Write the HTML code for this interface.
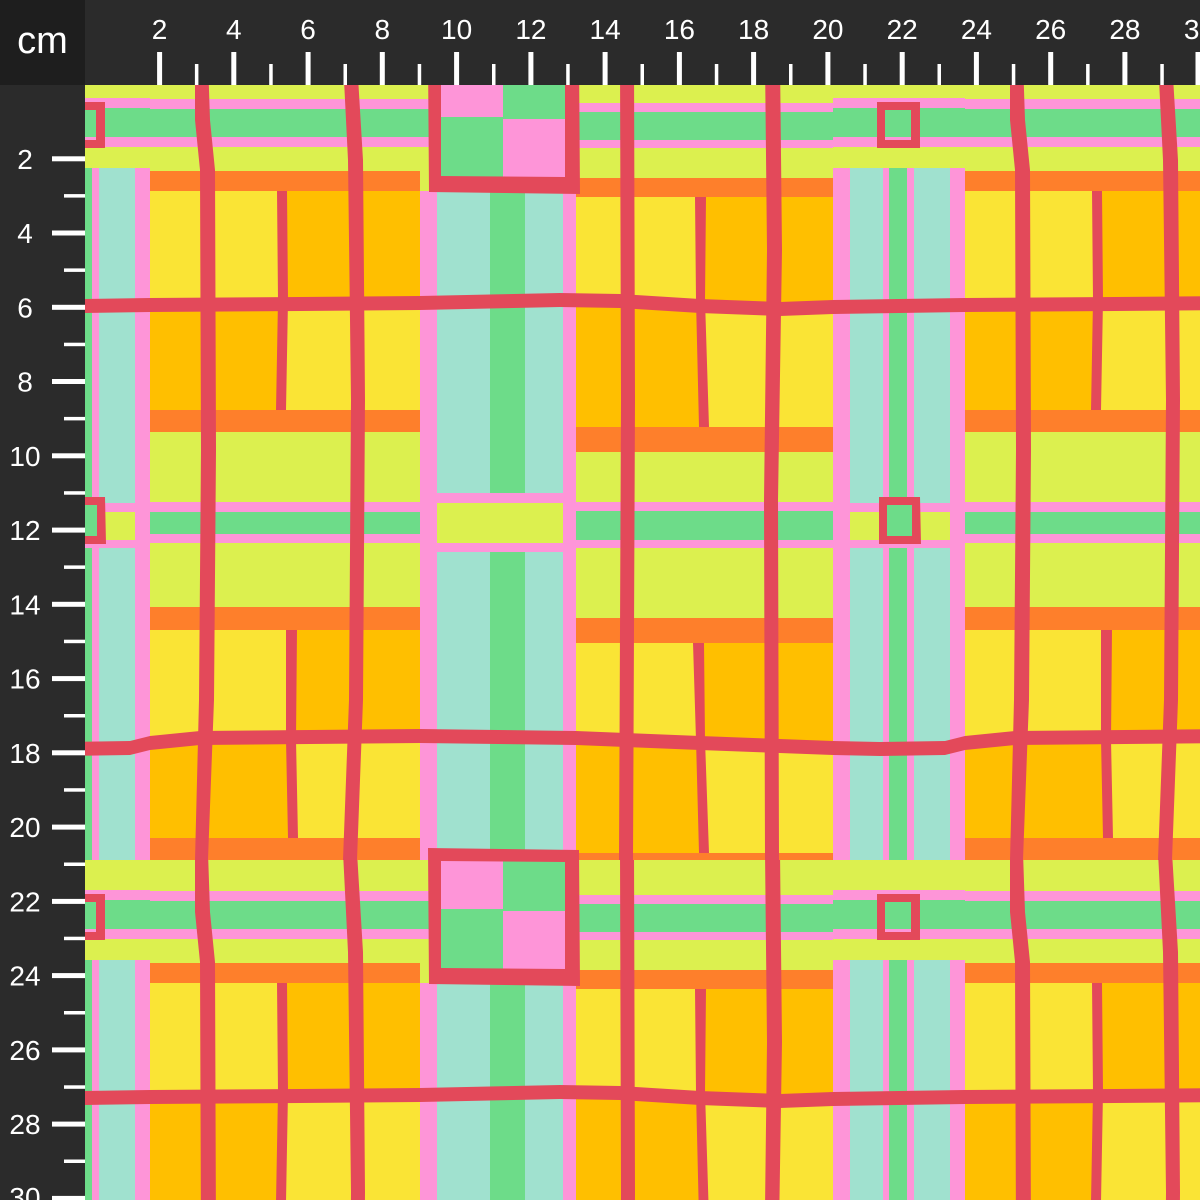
<!DOCTYPE html>
<html><head><meta charset="utf-8"><style>
html,body{margin:0;padding:0;background:#2b2b2b;width:1200px;height:1200px;overflow:hidden;position:relative;}
svg{display:block;position:absolute;left:0;top:0;}
text{font-family:"Liberation Sans",sans-serif;fill:#fff;}
#b30{position:absolute;left:0;top:1180px;width:85px;height:20px;overflow:hidden;}
#b30 span{position:absolute;left:0;width:50px;text-align:center;top:2px;font:28px/32px "Liberation Sans",sans-serif;color:#fff;}
</style></head><body>
<svg width="1200" height="1200" viewBox="0 0 1200 1200" xmlns="http://www.w3.org/2000/svg">
<defs>
<pattern id="p" patternUnits="userSpaceOnUse" x="150" y="68" width="815" height="792">
<g transform="translate(-150,-68)">
  <rect x="150" y="68" width="815" height="792" fill="#dcf04f"/>
  <!-- upper band -->
  <rect x="150" y="99" width="426" height="10" fill="#fe95d8"/>
  <rect x="150" y="109" width="426" height="28" fill="#6ddc89"/>
  <rect x="150" y="137" width="426" height="10" fill="#fe95d8"/>
  <rect x="576" y="103" width="257" height="9" fill="#fe95d8"/>
  <rect x="576" y="112" width="257" height="28" fill="#6ddc89"/>
  <rect x="576" y="140" width="257" height="8" fill="#fe95d8"/>
  <rect x="833" y="98" width="132" height="10" fill="#fe95d8"/>
  <rect x="833" y="108" width="132" height="29" fill="#6ddc89"/>
  <rect x="833" y="137" width="132" height="10" fill="#fe95d8"/>
  <!-- orange bands L -->
  <rect x="150" y="171" width="270" height="20" fill="#fe7f2b"/>
  <rect x="150" y="410" width="270" height="22" fill="#fe7f2b"/>
  <rect x="150" y="607" width="270" height="23" fill="#fe7f2b"/>
  <rect x="150" y="838" width="270" height="22" fill="#fe7f2b"/>
  <!-- orange bands M -->
  <rect x="576" y="178" width="257" height="19" fill="#fe7f2b"/>
  <rect x="576" y="427" width="257" height="25" fill="#fe7f2b"/>
  <rect x="576" y="618" width="257" height="25" fill="#fe7f2b"/>
  <rect x="576" y="853" width="257" height="7" fill="#fe7f2b"/>
  <!-- blocks L -->
  <rect x="150" y="191" width="132" height="114" fill="#fae435"/>
  <rect x="282" y="191" width="138" height="114" fill="#ffbf00"/>
  <rect x="150" y="305" width="132" height="105" fill="#ffbf00"/>
  <rect x="282" y="305" width="138" height="105" fill="#fae435"/>
  <rect x="150" y="630" width="141" height="110" fill="#fae435"/>
  <rect x="291" y="630" width="129" height="110" fill="#ffbf00"/>
  <rect x="150" y="740" width="141" height="98" fill="#ffbf00"/>
  <rect x="291" y="740" width="129" height="98" fill="#fae435"/>
  <!-- blocks M -->
  <rect x="576" y="197" width="124" height="106" fill="#fae435"/>
  <rect x="700" y="197" width="133" height="106" fill="#ffbf00"/>
  <rect x="576" y="303" width="124" height="124" fill="#ffbf00"/>
  <rect x="700" y="303" width="133" height="124" fill="#fae435"/>
  <rect x="576" y="643" width="124" height="99" fill="#fae435"/>
  <rect x="700" y="643" width="133" height="99" fill="#ffbf00"/>
  <rect x="576" y="742" width="124" height="111" fill="#ffbf00"/>
  <rect x="700" y="742" width="133" height="111" fill="#fae435"/>
  <!-- thin band -->
  <rect x="150" y="502" width="270" height="10" fill="#fe95d8"/>
  <rect x="150" y="512" width="270" height="22" fill="#6ddc89"/>
  <rect x="150" y="534" width="270" height="9" fill="#fe95d8"/>
  <rect x="576" y="502" width="257" height="9" fill="#fe95d8"/>
  <rect x="576" y="511" width="257" height="29" fill="#6ddc89"/>
  <rect x="576" y="540" width="257" height="8" fill="#fe95d8"/>
  <!-- wide column -->
  <rect x="420" y="191" width="17" height="669" fill="#fe95d8"/>
  <rect x="437" y="191" width="53" height="669" fill="#a0e1cf"/>
  <rect x="490" y="191" width="35" height="669" fill="#6ddc89"/>
  <rect x="525" y="191" width="38" height="669" fill="#a0e1cf"/>
  <rect x="563" y="191" width="13" height="669" fill="#fe95d8"/>
  <rect x="437" y="493" width="126" height="10" fill="#fe95d8"/>
  <rect x="437" y="503" width="126" height="40" fill="#dcf04f"/>
  <rect x="437" y="543" width="126" height="9" fill="#fe95d8"/>
  <!-- big box interior -->
  <rect x="438" y="60" width="65" height="57" fill="#fe95d8"/>
  <rect x="503" y="60" width="65" height="59" fill="#6ddc89"/>
  <rect x="438" y="117" width="65" height="62" fill="#6ddc89"/>
  <rect x="503" y="119" width="65" height="60" fill="#fe95d8"/>
  <!-- narrow column -->
  <rect x="833" y="168" width="17" height="692" fill="#fe95d8"/>
  <rect x="850" y="168" width="33" height="692" fill="#a0e1cf"/>
  <rect x="883" y="168" width="6" height="692" fill="#fe95d8"/>
  <rect x="889" y="168" width="18" height="692" fill="#6ddc89"/>
  <rect x="907" y="168" width="7" height="692" fill="#fe95d8"/>
  <rect x="914" y="168" width="36" height="692" fill="#a0e1cf"/>
  <rect x="950" y="168" width="15" height="692" fill="#fe95d8"/>
  <rect x="850" y="503" width="100" height="9" fill="#fe95d8"/>
  <rect x="850" y="512" width="100" height="28" fill="#dcf04f"/>
  <rect x="850" y="540" width="100" height="8" fill="#fe95d8"/>
  <rect x="886" y="505" width="27" height="33" fill="#6ddc89"/>
  <!-- red layer -->
  <g fill="#e3495a">
    <polygon points="195,60 208,60 210,120 215,170 216,450 214,700 208,860 195,860 199,700 201,450 200,170 195,120"/>
    <polygon points="343,60 357,60 363,160 365,400 363,700 357,860 343,860 349,700 351,400 348,160"/>
    <polygon points="620,60 634,60 635,400 633,860 619,860 621,400"/>
    <polygon points="765,60 780,60 782,250 778,500 779,860 765,860 764,500 767,250"/>
    <polygon points="150,298 300,297 420,296 560,293 620,294 700,299 780,302 833,300 965,298 965,312 833,314 780,316 700,313 620,308 560,307 420,310 300,311 150,312"/>
    <polygon points="150,736 200,731 420,729 576,731 700,736 833,741 880,742 945,741 965,736 965,750 945,755 880,756 833,755 700,750 576,745 420,743 200,745 150,750"/>
    <polygon points="277,191 287,191 288,300 286,410 276,410 278,300"/>
    <polygon points="286,630 297,630 296,740 298,838 288,838 286,740"/>
    <polygon points="695,197 706,197 705,300 709,427 699,427 696,300"/>
    <polygon points="693,643 704,643 705,740 709,853 699,853 696,740"/>
    <path fill-rule="evenodd" d="M428,56 L579,58 L580,194 L429,192 Z M441,69 L441,176 L565,177 L565,70 Z"/>
    <path fill-rule="evenodd" transform="translate(0,792)" d="M428,56 L579,58 L580,194 L429,192 Z M441,69 L441,176 L565,177 L565,70 Z"/>
    <path fill-rule="evenodd" d="M877,102 L920,102 L920,148 L877,148 Z M885,110 L885,140 L911,140 L911,110 Z"/>
    <path fill-rule="evenodd" d="M879,497 L920,497 L921,544 L879,544 Z M887,505 L887,536 L912,536 L912,505 Z"/>
  </g>
</g>
</pattern>
</defs>
<rect x="85" y="85" width="1115" height="1115" fill="url(#p)"/>
<!-- rulers -->
<rect x="0" y="0" width="1200" height="85" fill="#2b2b2b"/>
<rect x="0" y="0" width="85" height="1200" fill="#2b2b2b"/>
<rect x="0" y="0" width="85" height="85" fill="#1e1e1e"/>
<text x="42.5" y="53" font-size="38" text-anchor="middle">cm</text>
<g fill="#fff">
  <rect x="157.1" y="52" width="5" height="33"/><rect x="194.9" y="64" width="3.5" height="21"/>
  <rect x="231.3" y="52" width="5" height="33"/><rect x="269.2" y="64" width="3.5" height="21"/>
  <rect x="305.6" y="52" width="5" height="33"/><rect x="343.5" y="64" width="3.5" height="21"/>
  <rect x="379.8" y="52" width="5" height="33"/><rect x="417.7" y="64" width="3.5" height="21"/>
  <rect x="454.1" y="52" width="5" height="33"/><rect x="492.0" y="64" width="3.5" height="21"/>
  <rect x="528.4" y="52" width="5" height="33"/><rect x="566.2" y="64" width="3.5" height="21"/>
  <rect x="602.6" y="52" width="5" height="33"/><rect x="640.5" y="64" width="3.5" height="21"/>
  <rect x="676.9" y="52" width="5" height="33"/><rect x="714.8" y="64" width="3.5" height="21"/>
  <rect x="751.1" y="52" width="5" height="33"/><rect x="789.0" y="64" width="3.5" height="21"/>
  <rect x="825.4" y="52" width="5" height="33"/><rect x="863.3" y="64" width="3.5" height="21"/>
  <rect x="899.7" y="52" width="5" height="33"/><rect x="937.5" y="64" width="3.5" height="21"/>
  <rect x="973.9" y="52" width="5" height="33"/><rect x="1011.8" y="64" width="3.5" height="21"/>
  <rect x="1048.2" y="52" width="5" height="33"/><rect x="1086.1" y="64" width="3.5" height="21"/>
  <rect x="1122.4" y="52" width="5" height="33"/><rect x="1160.3" y="64" width="3.5" height="21"/>
  <rect x="1195.5" y="52" width="4.5" height="33"/>

  <rect x="52" y="156.3" width="33" height="5"/><rect x="64" y="194.1" width="21" height="3.5"/>
  <rect x="52" y="230.5" width="33" height="5"/><rect x="64" y="268.4" width="21" height="3.5"/>
  <rect x="52" y="304.8" width="33" height="5"/><rect x="64" y="342.7" width="21" height="3.5"/>
  <rect x="52" y="379.0" width="33" height="5"/><rect x="64" y="416.9" width="21" height="3.5"/>
  <rect x="52" y="453.3" width="33" height="5"/><rect x="64" y="491.2" width="21" height="3.5"/>
  <rect x="52" y="527.6" width="33" height="5"/><rect x="64" y="565.4" width="21" height="3.5"/>
  <rect x="52" y="601.8" width="33" height="5"/><rect x="64" y="639.7" width="21" height="3.5"/>
  <rect x="52" y="676.1" width="33" height="5"/><rect x="64" y="714.0" width="21" height="3.5"/>
  <rect x="52" y="750.3" width="33" height="5"/><rect x="64" y="788.2" width="21" height="3.5"/>
  <rect x="52" y="824.6" width="33" height="5"/><rect x="64" y="862.5" width="21" height="3.5"/>
  <rect x="52" y="898.9" width="33" height="5"/><rect x="64" y="936.7" width="21" height="3.5"/>
  <rect x="52" y="973.1" width="33" height="5"/><rect x="64" y="1011.0" width="21" height="3.5"/>
  <rect x="52" y="1047.4" width="33" height="5"/><rect x="64" y="1085.3" width="21" height="3.5"/>
  <rect x="52" y="1121.6" width="33" height="5"/><rect x="64" y="1159.5" width="21" height="3.5"/>
  <rect x="52" y="1195.9" width="33" height="4.1"/>
</g>
<g font-size="28" text-anchor="middle">
  <text x="159.6" y="39">2</text><text x="233.8" y="39">4</text><text x="308.1" y="39">6</text>
  <text x="382.3" y="39">8</text><text x="456.6" y="39">10</text><text x="530.9" y="39">12</text>
  <text x="605.1" y="39">14</text><text x="679.4" y="39">16</text><text x="753.6" y="39">18</text>
  <text x="827.9" y="39">20</text><text x="902.2" y="39">22</text><text x="976.4" y="39">24</text>
  <text x="1050.7" y="39">26</text><text x="1124.9" y="39">28</text>
  <text x="1199.5" y="39" text-anchor="end">3</text>

  <text x="25" y="168.8">2</text><text x="25" y="243">4</text><text x="25" y="317.3">6</text>
  <text x="25" y="391.5">8</text><text x="25" y="465.8">10</text><text x="25" y="540.1">12</text>
  <text x="25" y="614.3">14</text><text x="25" y="688.6">16</text><text x="25" y="762.8">18</text>
  <text x="25" y="837.1">20</text><text x="25" y="911.4">22</text><text x="25" y="985.6">24</text>
  <text x="25" y="1059.9">26</text><text x="25" y="1134.1">28</text>
</g>
</svg>
<div id="b30"><span>30</span></div>
</body></html>
